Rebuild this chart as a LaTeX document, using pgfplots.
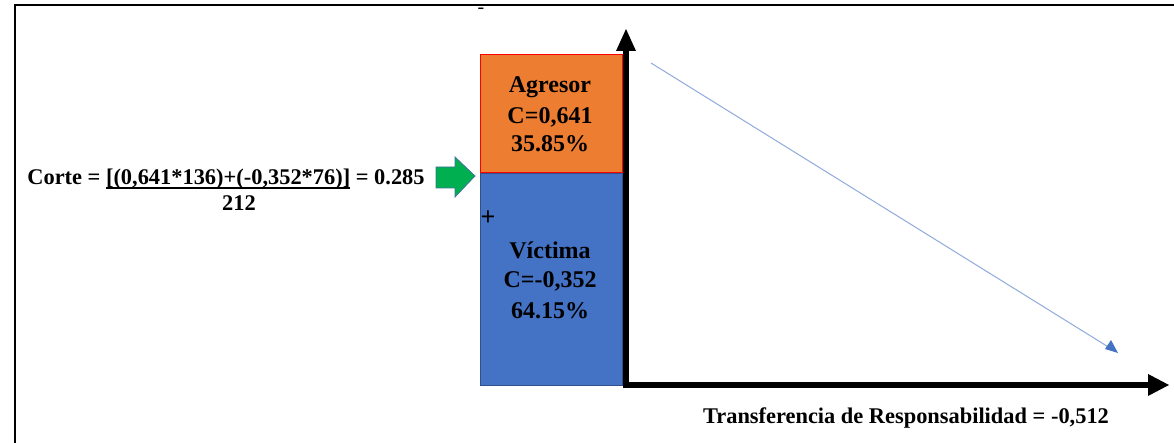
\documentclass[border=0pt]{standalone}
\usepackage{fontspec}
\setmainfont{Liberation Serif}
\usepackage{pgfplots}
\pgfplotsset{compat=1.18}
\usetikzlibrary{arrows.meta}
\definecolor{orng}{HTML}{ED7D31}
\definecolor{blu}{HTML}{4472C4}
\definecolor{bluedge}{HTML}{2F528F}
\definecolor{lineblue}{HTML}{8FAADC}
\definecolor{grn}{HTML}{00B050}
\definecolor{grnedge}{HTML}{41719C}
\newcommand\myul[1]{\setbox0\hbox{#1}\rlap{\rule[-2.2pt]{\wd0}{0.7pt}}\box0\relax}
\begin{document}
\begin{tikzpicture}
\begin{axis}[
  scale only axis, width=587pt, height=221.5pt,
  xmin=0, xmax=1174, ymin=0, ymax=443,
  hide axis, clip=false,
]
\coordinate (SW) at (axis cs:0,0);
\coordinate (NE) at (axis cs:1174,443);
% frame
\addplot[black, line width=1pt] coordinates {(15,0) (15,438) (1174,438)};
% stacked boxes
\addplot[fill=blu, draw=bluedge, line width=0.4pt] coordinates {(480,58) (622,58) (622,270) (480,270)} -- cycle;
\addplot[fill=orng, draw=red, line width=0.5pt] coordinates {(480,270) (622,270) (622,388) (480,388)} -- cycle;
% y axis arrow
\addplot[black, line width=3pt] coordinates {(626,55) (626,393)};
\addplot[fill=black, draw=none] coordinates {(616,392) (636,392) (626,414)} -- cycle;
% x axis arrow
\addplot[black, line width=3pt] coordinates {(623,58) (1149,58)};
\addplot[fill=black, draw=none] coordinates {(1148,69) (1148,47) (1169,58)} -- cycle;
% trend line
\addplot[lineblue, line width=0.5pt] coordinates {(651,380) (1110,95)};
\addplot[fill=blu, draw=none] coordinates {(1118,90) (1105,94) (1111,103)} -- cycle;
% green arrow
\addplot[fill=grn, draw=grnedge, line width=0.4pt] coordinates {(436,276) (455,276) (455,286) (475,267) (455,246) (455,255) (436,255)} -- cycle;
% texts
\node[font=\fontsize{12}{14}\selectfont\bfseries] at (axis cs:550,356) {Agresor};
\node[font=\fontsize{12}{14}\selectfont\bfseries] at (axis cs:550,326) {C=0,641};
\node[font=\fontsize{12}{14}\selectfont\bfseries] at (axis cs:550,299) {35.85\%};
\node[font=\fontsize{12}{14}\selectfont\bfseries] at (axis cs:550,193) {Víctima};
\node[font=\fontsize{12}{14}\selectfont\bfseries] at (axis cs:550,162) {C=-0,352};
\node[font=\fontsize{12}{14}\selectfont\bfseries] at (axis cs:550,132) {64.15\%};
\node[font=\fontsize{10}{12}\selectfont] at (axis cs:481,432) {-};
\node[font=\fontsize{13}{14}\selectfont\bfseries] at (axis cs:488,225) {+};
\node[font=\fontsize{11.2}{13}\selectfont\bfseries, inner sep=0pt] at (axis cs:226,264) {Corte = \myul{[(0,641*136)+(-0,352*76)]} = 0.285};
\node[font=\fontsize{11.2}{13}\selectfont\bfseries, inner sep=0pt] at (axis cs:239,240) {212};
\node[font=\fontsize{11.2}{13}\selectfont\bfseries, inner sep=0pt] at (axis cs:906,25) {Transferencia de Responsabilidad = -0,512};
\end{axis}
\pgfresetboundingbox
\path (SW) rectangle (NE);
\end{tikzpicture}
\end{document}
